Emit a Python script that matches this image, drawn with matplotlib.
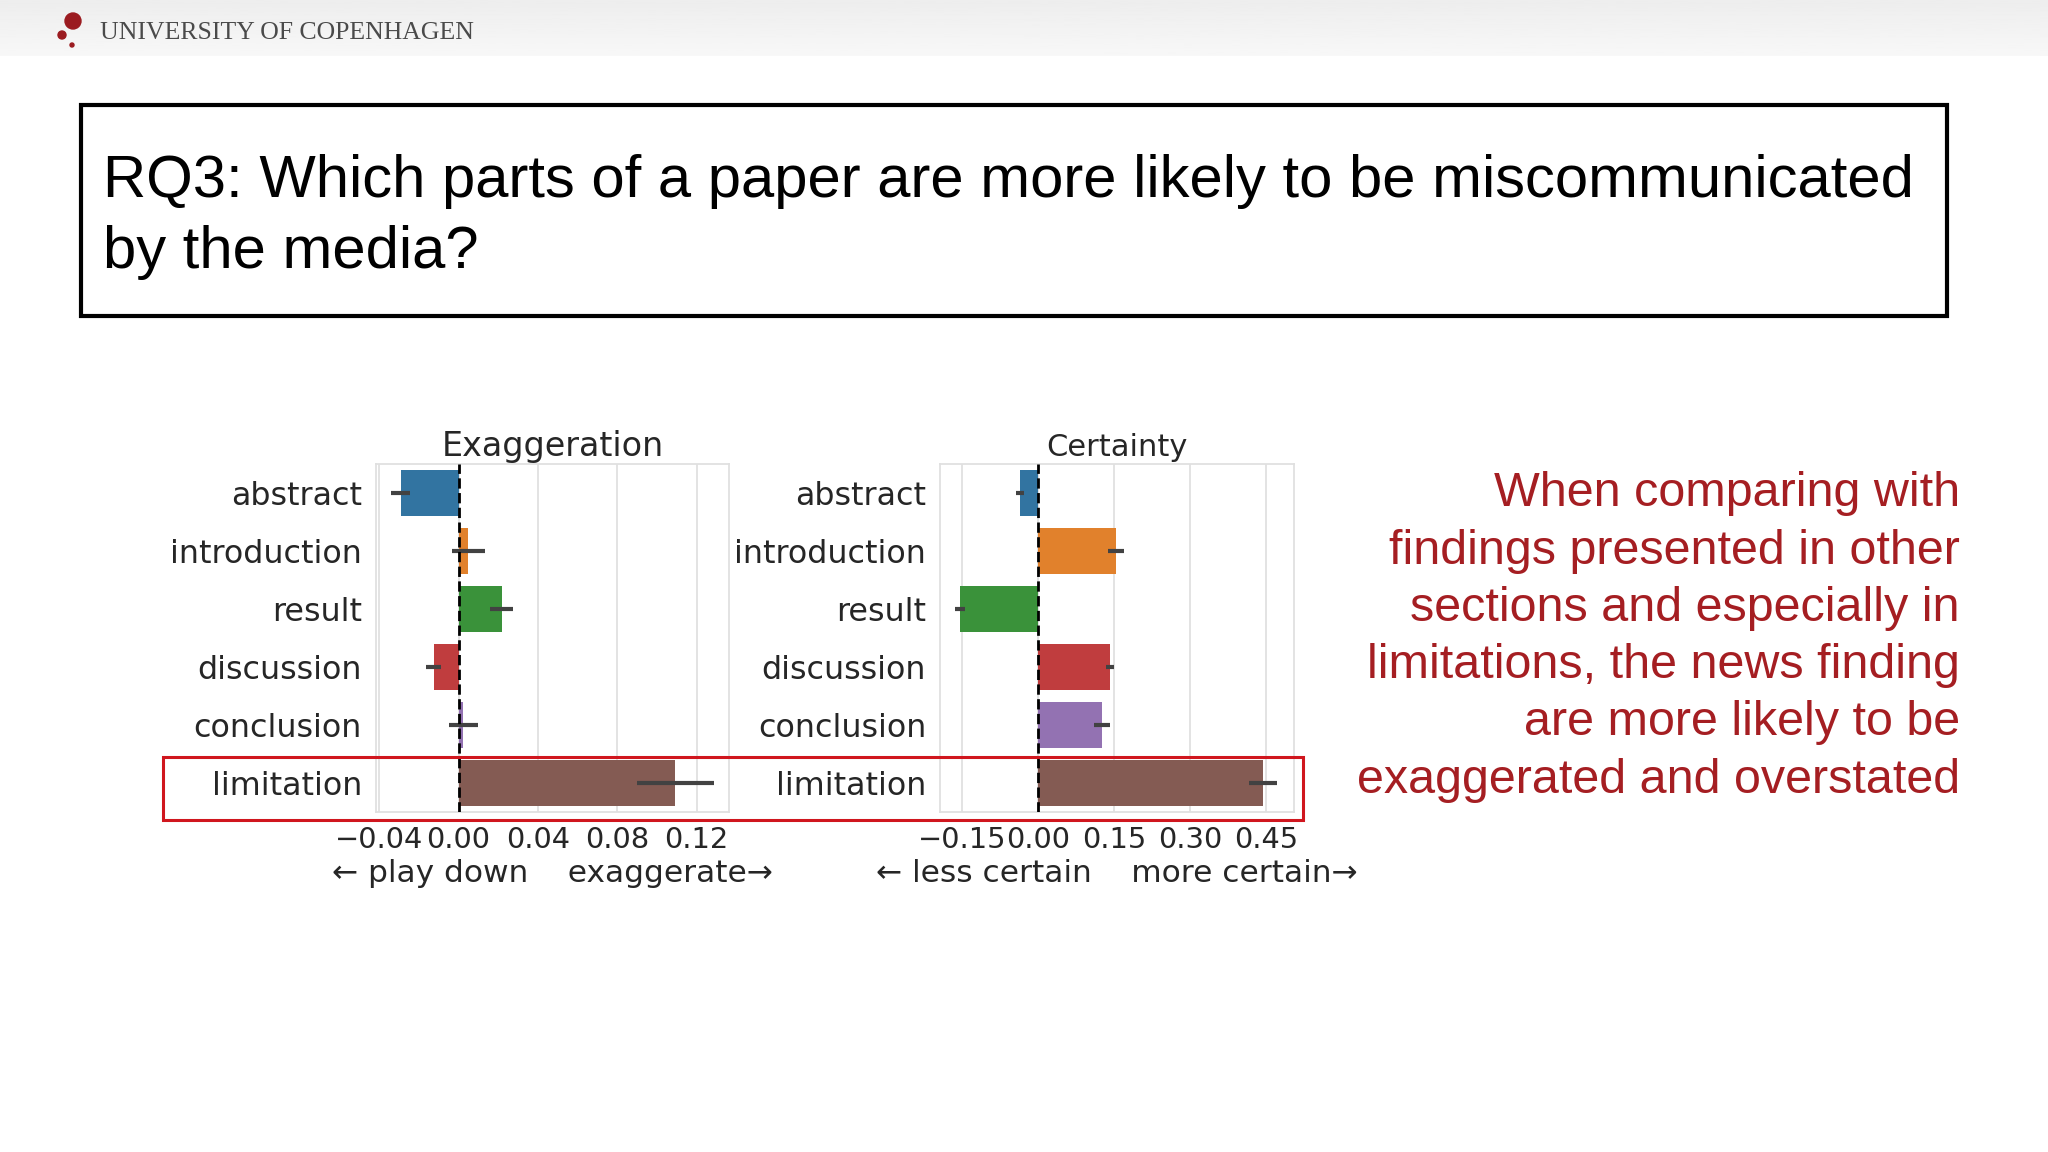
import matplotlib
matplotlib.use("Agg")
import matplotlib.pyplot as plt
from matplotlib.patches import Rectangle, Circle
import numpy as np

# data
sections = ["abstract", "introduction", "result", "discussion", "conclusion", "limitation"]
exag_vals = [-0.0292, 0.0050, 0.0219, -0.0124, 0.0025, 0.1093]
exag_err = [0.0047, 0.0085, 0.0058, 0.0038, 0.0072, 0.0194]
cert_vals = [-0.035, 0.1535, -0.1535, 0.142, 0.126, 0.444]
cert_err = [0.008, 0.016, 0.0097, 0.0073, 0.0154, 0.028]
exag_ticks = [-0.04, 0.00, 0.04, 0.08, 0.12]
cert_ticks = [-0.15, 0.00, 0.15, 0.30, 0.45]

# seaborn-style desaturated tab10
colors = ["#3274a1", "#e1812c", "#3a923a", "#c03d3e", "#9372b2", "#845b53"]
txt = "#262626"
ku_red = "#a51e22"

fig = plt.figure(figsize=(20.48, 11.52), dpi=100)
fig.patch.set_facecolor("white")

# slide decorations in pixel coords
bg = fig.add_axes([0, 0, 1, 1])
bg.axis("off")
grad = np.linspace(0.93, 0.97, 60).reshape(-1, 1)
bg.imshow(grad, cmap="gray", vmin=0, vmax=1, extent=[0, 2048, 56, 0], aspect="auto")
bg.set_xlim(0, 2048)
bg.set_ylim(1152, 0)
bg.add_patch(Circle((73, 21), 8, color="#9b1b20"))
bg.add_patch(Circle((62, 35), 4, color="#9b1b20"))
bg.add_patch(Circle((72, 45), 2, color="#9b1b20"))
bg.text(100, 33, "UNIVERSITY OF COPENHAGEN", family="Liberation Serif", fontsize=18.5,
        color="#4a4a4a", va="center", ha="left")

bg.add_patch(Rectangle((81, 105), 1866, 211, fill=False, lw=3, ec="black"))
bg.text(103, 217, "RQ3: Which parts of a paper are more likely to be miscommunicated\nby the media?",
        family="Liberation Sans", fontsize=43, va="center", ha="left", linespacing=1.37)

bg.text(1960, 637, "When comparing with\nfindings presented in other\nsections and especially in\n"
        "limitations, the news finding\nare more likely to be\nexaggerated and overstated",
        family="Liberation Sans", fontsize=34.9, color=ku_red, va="center", ha="right",
        multialignment="right", linespacing=1.35)


def panel(rect, vals, errs, ticks, xlim, title, title_size, xlabel):
    ax = fig.add_axes(rect)
    y = np.arange(len(sections))
    ax.barh(y, vals, height=0.8, color=colors, xerr=errs,
            error_kw=dict(ecolor="#424242", elinewidth=3, capsize=0), zorder=2)
    ax.axvline(0, color="black", ls="--", lw=2, zorder=3)
    ax.set_ylim(5.5, -0.5)
    ax.set_xlim(*xlim)
    ax.set_yticks(y)
    ax.set_yticklabels(sections)
    ax.set_xticks(ticks)
    ax.set_xticklabels(["%.2f" % t if t >= 0 else "\u2212%.2f" % -t for t in ticks])
    ax.tick_params(axis="y", labelsize=22.9, length=0, pad=10, labelcolor=txt)
    ax.tick_params(axis="x", labelsize=20.8, length=0, pad=10, labelcolor=txt)
    ax.grid(axis="x", color="#e0e0e0", lw=1.3, zorder=0)
    for s in ax.spines.values():
        s.set_color("#e0e0e0")
        s.set_linewidth(1.3)
    ax.set_title(title, fontsize=title_size, color=txt, pad=6)
    ax.set_xlabel(xlabel, fontsize=22.5, color=txt, labelpad=4)
    return ax


panel([0.1836, 0.2951, 0.1724, 0.302], exag_vals, exag_err, exag_ticks,
      (-0.0416, 0.1364), "Exaggeration", 24, "\u2190 play down    exaggerate\u2192")
panel([0.459, 0.2951, 0.1729, 0.302], cert_vals, cert_err, cert_ticks,
      (-0.193, 0.505), "Certainty", 22, "\u2190 less certain    more certain\u2192")

# highlight box around the limitation row, drawn above the charts
top = fig.add_axes([0, 0, 1, 1], facecolor="none")
top.axis("off")
top.set_xlim(0, 2048)
top.set_ylim(1152, 0)
top.add_patch(Rectangle((163, 757), 1140, 63, fill=False, lw=2.2, ec="#d0161e"))

plt.savefig("out.png", dpi=100)
